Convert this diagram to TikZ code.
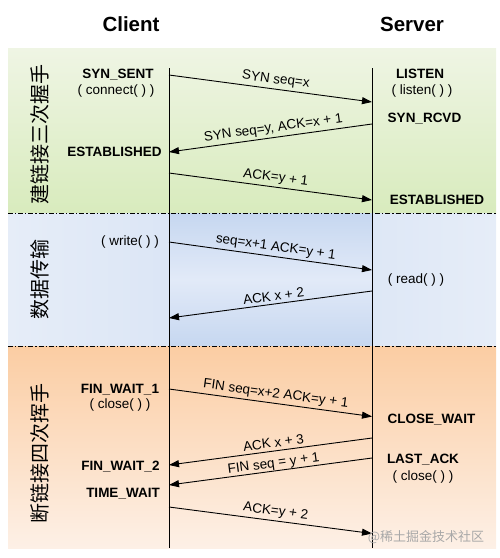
\documentclass[tikz,border=0pt]{standalone}
\usepackage{fontspec}
\setmainfont{Liberation Sans}
\newfontfamily\cjk{Noto Sans CJK SC}
\usetikzlibrary{arrows.meta}
\definecolor{gtop}{HTML}{EFF5E4}
\definecolor{gbot}{HTML}{D8EBBD}
\definecolor{bpale}{HTML}{E6EDF8}
\definecolor{bmid}{HTML}{D6E2F4}
\definecolor{binner}{HTML}{E2EAF8}
\definecolor{bouter}{HTML}{C6D7F0}
\definecolor{otop}{HTML}{FBCDA3}
\definecolor{obot}{HTML}{FDF0E6}
\definecolor{wmark}{HTML}{A8A8A8}
\begin{document}
\begin{tikzpicture}[x=1pt,y=-1pt,
  title/.style={anchor=base,inner sep=0pt,font=\bfseries\fontsize{20.5}{24}\selectfont},
  state/.style={anchor=base,inner sep=0pt,font=\bfseries\fontsize{13.5}{16}\selectfont},
  call/.style={anchor=base,inner sep=0pt,font=\fontsize{13.5}{16}\selectfont},
  msgr/.style={line width=0.9pt,-{Triangle[length=10pt,width=7pt]}},
  msgl/.style={line width=0.9pt,{Triangle[length=10pt,width=7pt]}-},
  lbl/.style={sloped,above,pos=0.52,inner sep=2.5pt,font=\fontsize{13.5}{16}\selectfont},
  phase/.style={rotate=90,inner sep=0pt,font=\cjk\fontsize{20}{20}\selectfont},
  sep/.style={line width=0.7pt,dash pattern=on 5pt off 2pt on 1.2pt off 2pt},
  life/.style={line width=0.9pt}]
\useasboundingbox (0,0) rectangle (500,558);
% bands
\shade[top color=gtop,bottom color=gbot] (8,48) rectangle (496,213);
\shade[left color=bpale,right color=bpale,middle color=bmid] (8,213) rectangle (496,346);
\shade[top color=bouter,bottom color=bouter,middle color=binner] (169,213) rectangle (372,346);
\shade[top color=otop,bottom color=obot] (8,346) rectangle (496,548);
% separators
\coordinate (sepAl) at (8,213); \coordinate (sepAr) at (496,213);
\coordinate (sepBl) at (8,346); \coordinate (sepBr) at (496,346);
\draw[sep] (sepAl) -- (sepAr);
\draw[sep] (sepBl) -- (sepBr);
% lifelines
\coordinate (ctop) at (169,68); \coordinate (cbot) at (169,548);
\coordinate (stop) at (372,68); \coordinate (sbot) at (372,548);
\draw[life] (ctop) -- (cbot);
\draw[life] (stop) -- (sbot);
% titles
\node[title] (client) at (131,31.5) {Client};
\node[title] (server) at (412,31.5) {Server};
% phase labels
\node[phase] (ph1) at (40,134) {建链接三次握手};
\node[phase] (ph2) at (40,279.5) {数据传输};
\node[phase] (ph3) at (40,453.5) {断链接四次挥手};
% states
\node[state] (synsent) at (118,78) {SYN\_SENT};
\node[call] (connect) at (116,94.5) {( connect( ) )};
\node[state] (estc) at (114.5,156) {ESTABLISHED};
\node[state] (listen) at (420,78) {LISTEN};
\node[call] (listenc) at (422,94) {( listen( ) )};
\node[state] (synrcvd) at (424.5,122) {SYN\_RCVD};
\node[state] (ests) at (437,204) {ESTABLISHED};
\node[call] (write) at (130,245.5) {( write( ) )};
\node[call] (read) at (416,283) {( read( ) )};
\node[state] (fw1) at (120,393) {FIN\_WAIT\_1};
\node[call] (closec) at (120,408) {( close( ) )};
\node[state] (closewait) at (431.5,423) {CLOSE\_WAIT};
\node[state] (lastack) at (423,463) {LAST\_ACK};
\node[call] (closes) at (423,480) {( close( ) )};
\node[state] (fw2) at (120.5,470) {FIN\_WAIT\_2};
\node[state] (tw) at (123,497) {TIME\_WAIT};
% message end points
\coordinate (c1) at (169,75);  \coordinate (s1) at (372,102);
\coordinate (c2) at (169,152); \coordinate (s2) at (372,124);
\coordinate (c3) at (169,173); \coordinate (s3) at (372,200);
\coordinate (c4) at (169,242); \coordinate (s4) at (372,270);
\coordinate (c5) at (169,318); \coordinate (s5) at (372,291);
\coordinate (c6) at (169,389); \coordinate (s6) at (372,416.5);
\coordinate (c7) at (169,465); \coordinate (s7) at (372,438);
\coordinate (c8) at (169,485); \coordinate (s8) at (372,458);
\coordinate (c9) at (169,507); \coordinate (s9) at (372,533.5);
% messages
\draw[msgr] (c1) -- (s1) node[lbl] {SYN seq=x};
\draw[msgl] (c2) -- (s2) node[lbl] {SYN seq=y, ACK=x + 1};
\draw[msgr] (c3) -- (s3) node[lbl] {ACK=y + 1};
\draw[msgr] (c4) -- (s4) node[lbl] {seq=x+1 ACK=y + 1};
\draw[msgl] (c5) -- (s5) node[lbl] {ACK x + 2};
\draw[msgr] (c6) -- (s6) node[lbl] {FIN seq=x+2 ACK=y + 1};
\draw[msgl] (c7) -- (s7) node[lbl,inner sep=3pt] {ACK x + 3};
\draw[msgl] (c8) -- (s8) node[lbl,inner sep=0.3pt] {FIN seq = y + 1};
\draw[msgr] (c9) -- (s9) node[lbl] {ACK=y + 2};
% watermark
\node[text=wmark,inner sep=0pt,font=\cjk\fontsize{13}{13}\selectfont] (wm) at (426,537) {@稀土掘金技术社区};
\end{tikzpicture}
\end{document}
